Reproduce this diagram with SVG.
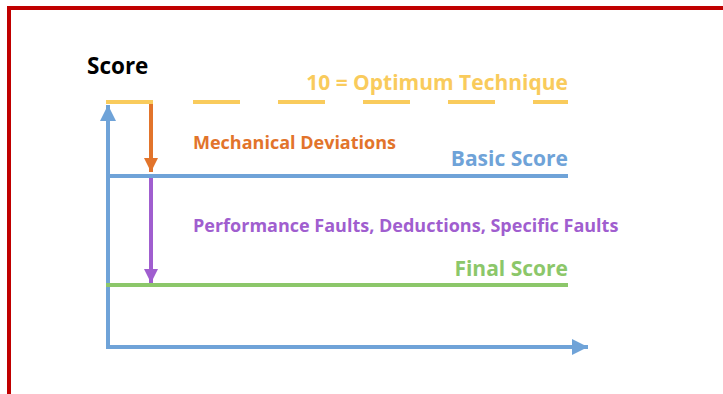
<svg xmlns="http://www.w3.org/2000/svg" width="723" height="394" viewBox="0 0 723 394">
  <defs>
    <style>
      .t { font-family: "Open Sans", "Liberation Sans", sans-serif; font-weight: bold; }
      .ln { fill: none; stroke-width: 4; }
    </style>
    <marker id="ahBlue" viewBox="0 0 10 10" refX="10" refY="5" markerWidth="4" markerHeight="4" markerUnits="strokeWidth" orient="auto">
      <path d="M0,0 L10,5 L0,10 Z" fill="#6FA3D8"/>
    </marker>
    <marker id="ahOrange" viewBox="0 0 10 10" refX="10" refY="5" markerWidth="3.5" markerHeight="3.5" markerUnits="strokeWidth" orient="auto">
      <path d="M0,0 L10,5 L0,10 Z" fill="#E2742B"/>
    </marker>
    <marker id="ahPurple" viewBox="0 0 10 10" refX="10" refY="5" markerWidth="3.5" markerHeight="3.5" markerUnits="strokeWidth" orient="auto">
      <path d="M0,0 L10,5 L0,10 Z" fill="#A05ECF"/>
    </marker>
  </defs>
  <rect x="0" y="0" width="723" height="394" fill="#ffffff"/>
  <rect x="9" y="8" width="730" height="400" fill="none" stroke="#C00000" stroke-width="4"/>

  <g id="connectors">
    <line class="ln" x1="108" y1="347" x2="108" y2="105" stroke="#6FA3D8" marker-end="url(#ahBlue)"/>
    <line class="ln" x1="106" y1="347" x2="588" y2="347" stroke="#6FA3D8" marker-end="url(#ahBlue)"/>
    <line class="ln" x1="151" y1="102" x2="151" y2="172" stroke="#E2742B" marker-end="url(#ahOrange)"/>
    <line class="ln" x1="151" y1="177" x2="151" y2="283" stroke="#A05ECF" marker-end="url(#ahPurple)"/>
  </g>

  <g id="optimum">
    <line class="ln" x1="106" y1="102" x2="153" y2="102" stroke="#F9CB5C"/>
    <line class="ln" x1="193" y1="102" x2="568" y2="102" stroke="#F9CB5C" stroke-dasharray="47 38"/>
    <text class="t" x="568" y="90" text-anchor="end" font-size="21" fill="#F9CB5C">10 = Optimum Technique</text>
  </g>

  <g id="basic">
    <line class="ln" x1="106" y1="176" x2="568" y2="176" stroke="#6FA3D8"/>
    <text class="t" x="568" y="166" text-anchor="end" font-size="21" fill="#6FA3D8">Basic Score</text>
  </g>

  <g id="final">
    <line class="ln" x1="106" y1="285" x2="568" y2="285" stroke="#8CC76A"/>
    <text class="t" x="568" y="276" text-anchor="end" font-size="21" fill="#8CC76A">Final Score</text>
  </g>

  <g id="labels">
    <text class="t" x="87" y="74" font-size="22.5" fill="#000000">Score</text>
    <text class="t" x="193" y="149" font-size="18" fill="#E2742B">Mechanical Deviations</text>
    <text class="t" x="193" y="232" font-size="18" fill="#A05ECF">Performance Faults, Deductions, Specific Faults</text>
  </g>
</svg>
